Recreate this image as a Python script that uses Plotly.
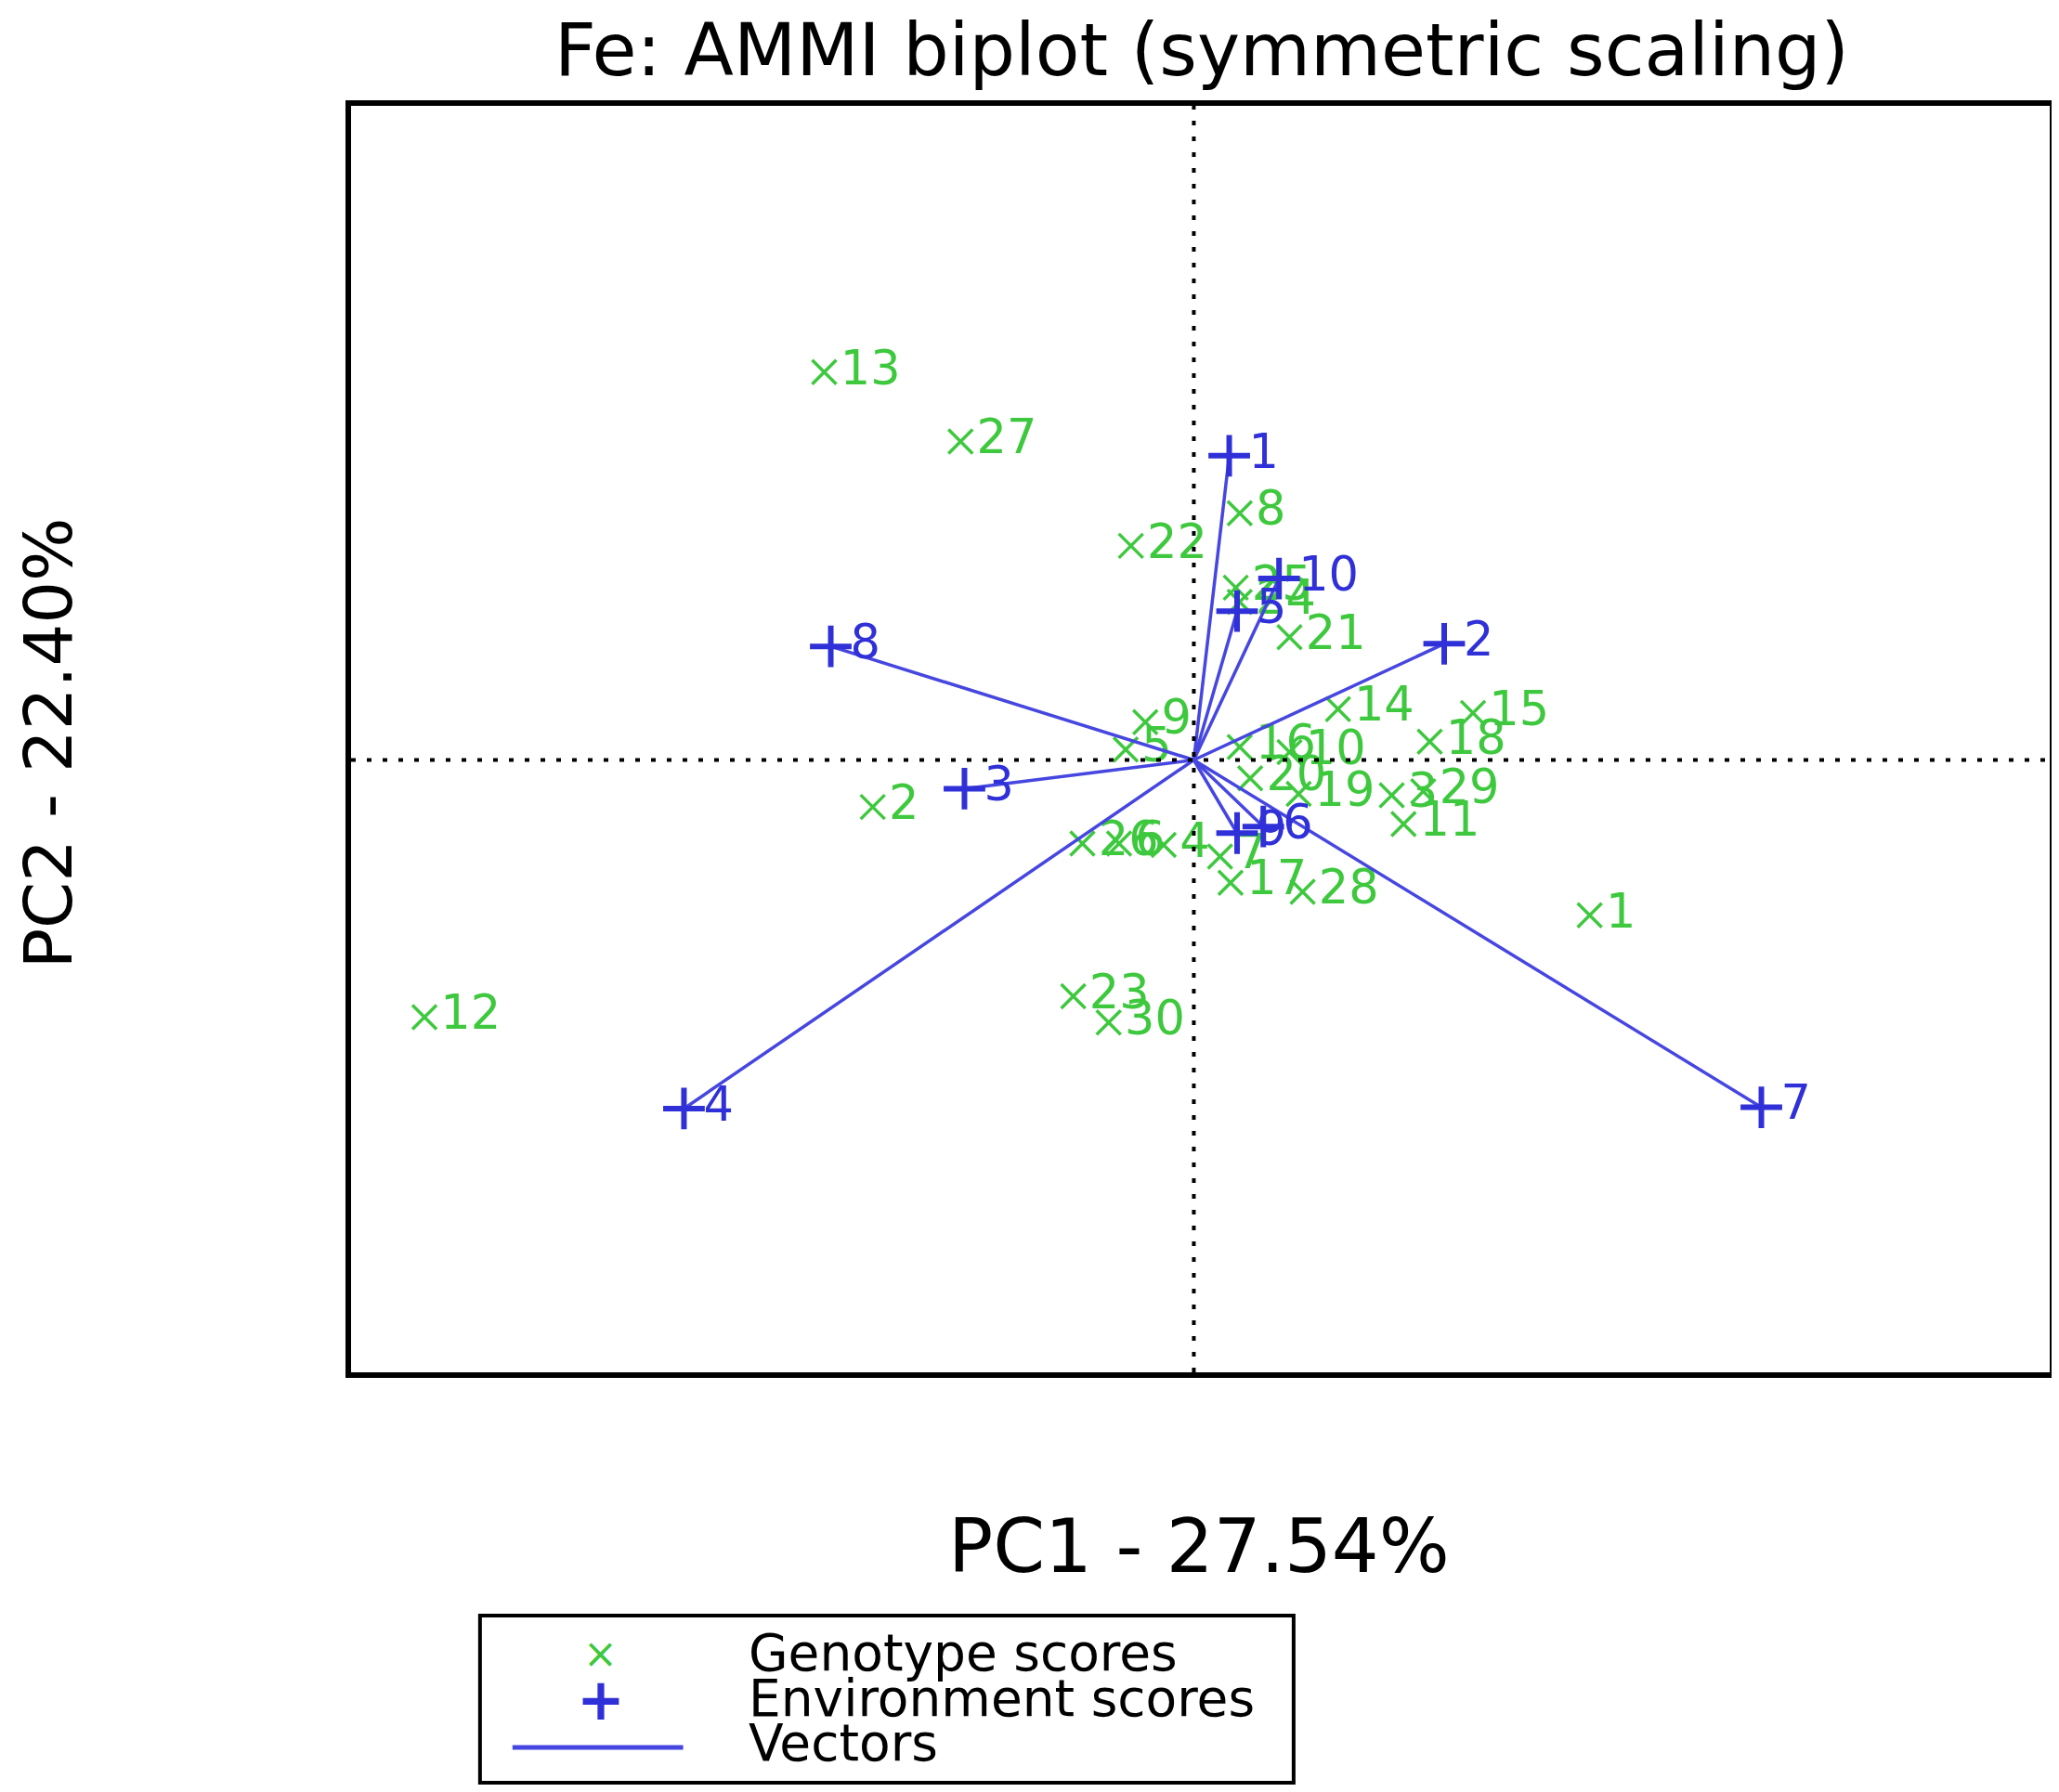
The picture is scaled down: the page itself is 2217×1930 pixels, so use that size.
import plotly.graph_objects as go

# genotype scores (PC1, PC2)
geno_id = [str(i) for i in range(1, 31)]
geno_pc1 = [3.02, -2.45, 1.51, -0.23, -0.52, -0.57, 0.20, 0.35, -0.37, 0.73,
            1.60, -5.87, -2.82, 1.10, 2.13, 0.35, 0.28, 1.80, 0.80, 0.43,
            0.73, -0.48, -0.92, 0.35, 0.32, -0.85, -1.78, 0.83, 1.75, -0.65]
geno_pc2 = [-1.19, -0.36, -0.27, -0.65, 0.08, -0.64, -0.74, 1.89, 0.29, 0.06,
            -0.49, -1.97, 2.97, 0.39, 0.36, 0.10, -0.94, 0.14, -0.26, -0.14,
            0.94, 1.64, -1.81, 1.21, 1.32, -0.64, 2.44, -1.01, -0.24, -2.01]

# environment scores (PC1, PC2)
env_id = [str(i) for i in range(1, 11)]
env_pc1 = [0.27, 1.91, -1.75, -3.89, 0.33, 0.53, 4.33, -2.77, 0.33, 0.65]
env_pc2 = [2.33, 0.89, -0.22, -2.67, 1.14, -0.51, -2.66, 0.87, -0.56, 1.39]

x_range = [-6.43, 6.53]
y_range = [-4.69, 5.01]

GREEN = '#3ec83e'
BLUE = '#3030d8'
VEC = '#4646e0'
FONT = 'DejaVu Sans'

W, H = 2217, 1930
L, R, T, B = 370, 16, 106, 460
pw, ph = W - L - R, H - T - B


def px(x):
    return (x - L) / pw


def py(y):
    return (H - B - y) / ph


# vectors from the origin to each environment
vx, vy = [], []
for a, b in zip(env_pc1, env_pc2):
    vx += [0, a, None]
    vy += [0, b, None]

fig = go.Figure()
fig.add_trace(go.Scatter(
    x=geno_pc1, y=geno_pc2, text=geno_id, mode='markers+text',
    textposition='middle right',
    marker=dict(symbol='x-thin', size=26, line=dict(width=3.5, color=GREEN), color=GREEN),
    textfont=dict(family=FONT, size=51, color=GREEN),
    name='Genotype scores', cliponaxis=False,
))
fig.add_trace(go.Scatter(
    x=vx, y=vy, mode='lines', line=dict(color=VEC, width=3.5),
    name='Vectors',
))
fig.add_trace(go.Scatter(
    x=env_pc1, y=env_pc2, text=env_id, mode='markers+text',
    textposition='middle right',
    marker=dict(symbol='cross-thin', size=32, line=dict(width=6, color=BLUE), color=BLUE),
    textfont=dict(family=FONT, size=51, color=BLUE),
    name='Environment scores', cliponaxis=False,
))

shapes = [
    dict(type='line', xref='x', yref='paper', x0=0, x1=0, y0=0, y1=1,
         line=dict(color='black', width=4, dash='5px,12px')),
    dict(type='line', xref='paper', yref='y', x0=0, x1=1, y0=0, y1=0,
         line=dict(color='black', width=4, dash='5px,12px')),
    # legend box
    dict(type='rect', xref='paper', yref='paper',
         x0=px(509), x1=px(1386), y0=py(1732), y1=py(1912),
         line=dict(color='black', width=4)),
    dict(type='line', xref='paper', yref='paper',
         x0=px(544), x1=px(728), y0=py(1874), y1=py(1874),
         line=dict(color=VEC, width=5)),
]

annotations = [
    dict(text='PC1 - 27.54%', xref='paper', yref='paper', x=px(1284), y=py(1658),
         xanchor='center', yanchor='middle',
         showarrow=False, font=dict(family=FONT, size=80, color='black')),
    dict(text='PC2 - 22.40%', xref='paper', yref='paper', x=px(44), y=py(792),
         xanchor='center', yanchor='middle',
         showarrow=False, textangle=-90, font=dict(family=FONT, size=72, color='black')),
    dict(text='×', xref='paper', yref='paper', x=px(639), y=py(1772),
         xanchor='center', yanchor='middle',
         showarrow=False, font=dict(family=FONT, size=44, color=GREEN)),
    dict(text='<b>+</b>', xref='paper', yref='paper', x=px(639), y=py(1822),
         xanchor='center', yanchor='middle',
         showarrow=False, font=dict(family=FONT, size=62, color=BLUE)),
]
for label, yy in [('Genotype scores', 1772), ('Environment scores', 1821), ('Vectors', 1869)]:
    annotations.append(dict(text=label, xref='paper', yref='paper', x=px(796), y=py(yy),
                            xanchor='left', yanchor='middle', showarrow=False,
                            font=dict(family=FONT, size=55, color='black')))

fig.update_layout(
    width=W, height=H,
    margin=dict(l=L, r=R, t=T, b=B),
    paper_bgcolor='white', plot_bgcolor='white',
    title=dict(text='Fe: AMMI biplot (symmetric scaling)', x=px(1287), xref='paper',
               xanchor='center', y=1 - 46 / H, yanchor='middle',
               font=dict(family=FONT, size=78, color='black')),
    showlegend=False,
    shapes=shapes,
    annotations=annotations,
)
fig.update_xaxes(range=x_range, showgrid=False, zeroline=False, showticklabels=False,
                 ticks='', showline=True, mirror=True, linewidth=6, linecolor='black')
fig.update_yaxes(range=y_range, showgrid=False, zeroline=False, showticklabels=False,
                 ticks='', showline=True, mirror=True, linewidth=6, linecolor='black')

fig.write_html('out.html')
